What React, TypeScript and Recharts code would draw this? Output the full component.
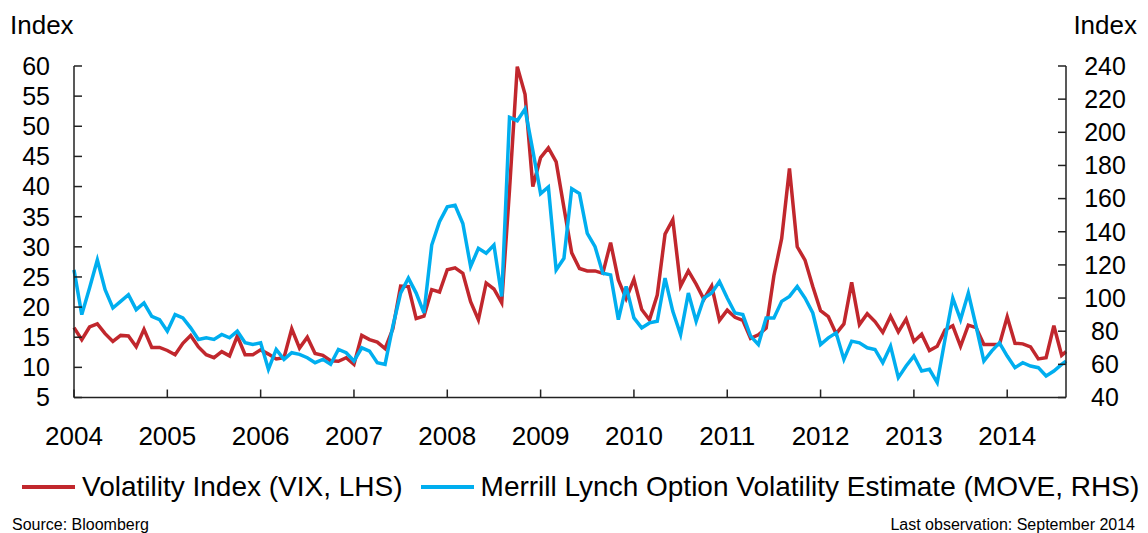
import { LineChart, Line, XAxis, YAxis } from "recharts";

// month-end observations Jan 2004 .. Aug 2014, plus the last (mid-September 2014) observation
const START_YEAR = 2004;
const LAST_OBS = 2014.63;

const yearTicks = [2004, 2005, 2006, 2007, 2008, 2009, 2010, 2011, 2012, 2013, 2014];
const vixTicks = [5, 10, 15, 20, 25, 30, 35, 40, 45, 50, 55, 60];
const moveTicks = [40, 60, 80, 100, 120, 140, 160, 180, 200, 220, 240];

// Volatility Index (VIX), LHS
const vix = [
  16.6, 14.6, 16.7, 17.2, 15.6, 14.3, 15.3, 15.2, 13.4, 16.3, 13.3, 13.3,
  12.8, 12.1, 14.0, 15.3, 13.4, 12.1, 11.6, 12.6, 11.9, 15.2, 12.1, 12.1,
  12.9, 12.2, 11.4, 11.6, 16.4, 13.2, 15.0, 12.3, 12.0, 11.1, 11.0, 11.6,
  10.5, 15.3, 14.6, 14.2, 13.1, 16.4, 23.5, 23.4, 18.1, 18.5, 22.9, 22.5,
  26.2, 26.5, 25.6, 20.9, 17.9, 24.0, 23.0, 20.7, 39.4, 59.9, 55.3, 40.0,
  44.8, 46.4, 44.1, 36.5, 29.0, 26.4, 26.0, 26.0, 25.6, 30.7, 24.5, 21.4,
  24.6, 19.6, 17.9, 22.0, 32.1, 34.5, 23.5, 26.0, 23.8, 21.3, 23.5, 17.8,
  19.5, 18.3, 17.8, 14.8, 15.4, 16.5, 25.2, 31.4, 43.0, 30.0, 27.8, 23.4,
  19.4, 18.4, 15.6, 17.2, 24.1, 17.1, 18.9, 17.6, 15.8, 18.5, 15.9, 18.0,
  14.3, 15.5, 12.8, 13.5, 16.2, 16.9, 13.5, 17.0, 16.6, 13.8, 13.8, 13.8,
  18.4, 14.0, 13.9, 13.4, 11.4, 11.6, 16.9, 12.0,
  12.6,
];

// Merrill Lynch Option Volatility Estimate (MOVE), RHS
const move = [
  117, 90, 106, 123, 105, 94, 98, 102, 93, 97, 89, 87,
  80, 90, 88, 82, 75, 76, 75, 78, 76, 80, 73, 72,
  73, 57, 69, 63, 67, 66, 64, 61, 63, 60, 69, 67,
  62, 70, 68, 61, 60, 83, 103, 112, 103, 91, 132, 146,
  155, 156, 145, 119, 130, 127, 132, 101, 209, 207, 214, 189,
  163, 167, 117, 124, 166, 163, 139, 131, 115, 114, 87, 107,
  88, 82, 85, 86, 112, 92, 78, 103, 86, 100, 103, 110,
  100, 91, 90, 77, 72, 88, 88, 98, 101, 107, 100, 91,
  72, 76, 79, 63, 74, 73, 70, 69, 61, 71, 52, 59,
  65, 56, 57, 49, 75, 100, 87, 103, 83, 62, 68, 73,
  65, 58, 61, 59, 58, 53, 56, 60,
  62,
];

const data = vix.map((v, i) => ({
  t: i < vix.length - 1 ? START_YEAR + i / 12 : LAST_OBS,
  vix: v,
  move: move[i],
}));

const RED = "#C1272D";
const BLUE = "#00AEEF";
const AXIS = "#222";
const FONT = "'Liberation Sans', Arial, sans-serif";

const YearTick = ({ x, y, payload }: any) => (
  <text x={x} y={y} dy="0.71em" textAnchor="middle" fontSize={26} fontFamily={FONT} fill="#000">
    {payload.value}
  </text>
);

// left labels sit right-aligned a fixed gap away from the axis line
const LeftTick = ({ y, payload }: any) => (
  <text x={50} y={y} dy="0.355em" textAnchor="end" fontSize={25} fontFamily={FONT} fill="#000">
    {payload.value}
  </text>
);

const RightTick = ({ x, y, payload }: any) => (
  <text x={x} y={y} dy="0.355em" textAnchor="middle" fontSize={25} fontFamily={FONT} fill="#000">
    {payload.value}
  </text>
);

const labelStyle = {
  position: "absolute" as const,
  fontFamily: FONT,
  color: "#000",
  whiteSpace: "nowrap" as const,
  lineHeight: 1,
};

export default function App() {
  return (
    <div style={{ position: "absolute", left: 0, top: 0, width: 1148, height: 533, background: "#fff" }}>
      <LineChart width={1148} height={533} data={data} margin={{ top: 66, right: 0, bottom: 0, left: 0 }}>
        <XAxis
          dataKey="t"
          type="number"
          domain={[START_YEAR, LAST_OBS]}
          ticks={yearTicks}
          height={135.5}
          tickSize={-8}
          tickMargin={37}
          tick={<YearTick />}
          stroke={AXIS}
          strokeWidth={1.5}
        />
        <YAxis
          yAxisId="vix"
          orientation="left"
          domain={[5, 60]}
          ticks={vixTicks}
          width={74}
          tickSize={-8}
          tick={<LeftTick />}
          stroke={AXIS}
          strokeWidth={1.5}
        />
        <YAxis
          yAxisId="move"
          orientation="right"
          domain={[40, 240]}
          ticks={moveTicks}
          width={82}
          tickSize={-8}
          tickMargin={47}
          tick={<RightTick />}
          stroke={AXIS}
          strokeWidth={1.5}
        />
        <Line yAxisId="vix" dataKey="vix" stroke={RED} strokeWidth={3.5} dot={false} isAnimationActive={false} />
        <Line yAxisId="move" dataKey="move" stroke={BLUE} strokeWidth={3.5} dot={false} isAnimationActive={false} />
      </LineChart>

      <div style={{ ...labelStyle, left: 10, top: 12, fontSize: 26 }}>Index</div>
      <div style={{ ...labelStyle, right: 11, top: 12, fontSize: 26 }}>Index</div>

      <div style={{ ...labelStyle, left: 22, top: 473, fontSize: 28, display: "flex", alignItems: "center" }}>
        <span style={{ display: "inline-block", width: 53, height: 4, background: RED, marginRight: 7 }} />
        <span>Volatility Index (VIX, LHS)</span>
        <span style={{ display: "inline-block", width: 53, height: 4, background: BLUE, marginLeft: 18, marginRight: 7 }} />
        <span>Merrill Lynch Option Volatility Estimate (MOVE, RHS)</span>
      </div>

      <div style={{ ...labelStyle, left: 12, top: 517, fontSize: 16 }}>Source: Bloomberg</div>
      <div style={{ ...labelStyle, right: 13, top: 517, fontSize: 16 }}>Last observation: September 2014</div>
    </div>
  );
}
